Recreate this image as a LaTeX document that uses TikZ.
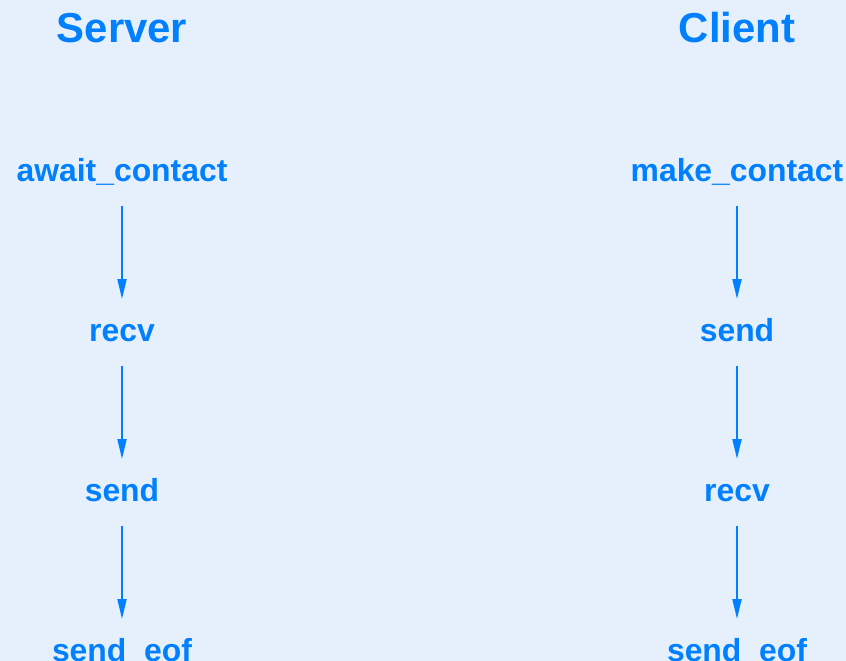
\documentclass[tikz,border=0pt]{standalone}
\usepackage{fontspec}
\setmainfont{Liberation Sans}
\usetikzlibrary{arrows.meta}
\definecolor{flowblue}{RGB}{0,128,255}
\definecolor{paleback}{RGB}{230,240,252}

\begin{document}
\begin{tikzpicture}[x=1bp, y=-1bp,
		head/.style={text=flowblue, font=\bfseries\fontsize{42}{48}\selectfont, anchor=base},
		call/.style={text=flowblue, font=\bfseries\fontsize{32}{38}\selectfont, anchor=base,
			inner sep=0pt, text height=24bp, text depth=7bp, outer ysep=18bp},
		flow/.style={draw=flowblue, line width=2bp, -{Triangle[length=20bp,width=9bp]}}]
	\fill[paleback] (0,0) rectangle (846,661);
	\useasboundingbox (0,0) rectangle (846,661);
	% column titles
	\node[head] (server) at (122,43) {Server};
	\node[head] (client) at (737,43) {Client};
	% server side
	\node[call] (s0) at (122,181) {await\_contact};
	\node[call] (s1) at (122,341) {recv};
	\node[call] (s2) at (122,501) {send};
	\node[call] (s3) at (122,661) {send\_eof};
	% client side
	\node[call] (c0) at (737,181) {make\_contact};
	\node[call] (c1) at (737,341) {send};
	\node[call] (c2) at (737,501) {recv};
	\node[call] (c3) at (737,661) {send\_eof};
	\foreach \i/\j in {0/1,1/2,2/3} {
		\draw[flow] (s\i) -- (s\j);
		\draw[flow] (c\i) -- (c\j);
	}
\end{tikzpicture}
\end{document}
